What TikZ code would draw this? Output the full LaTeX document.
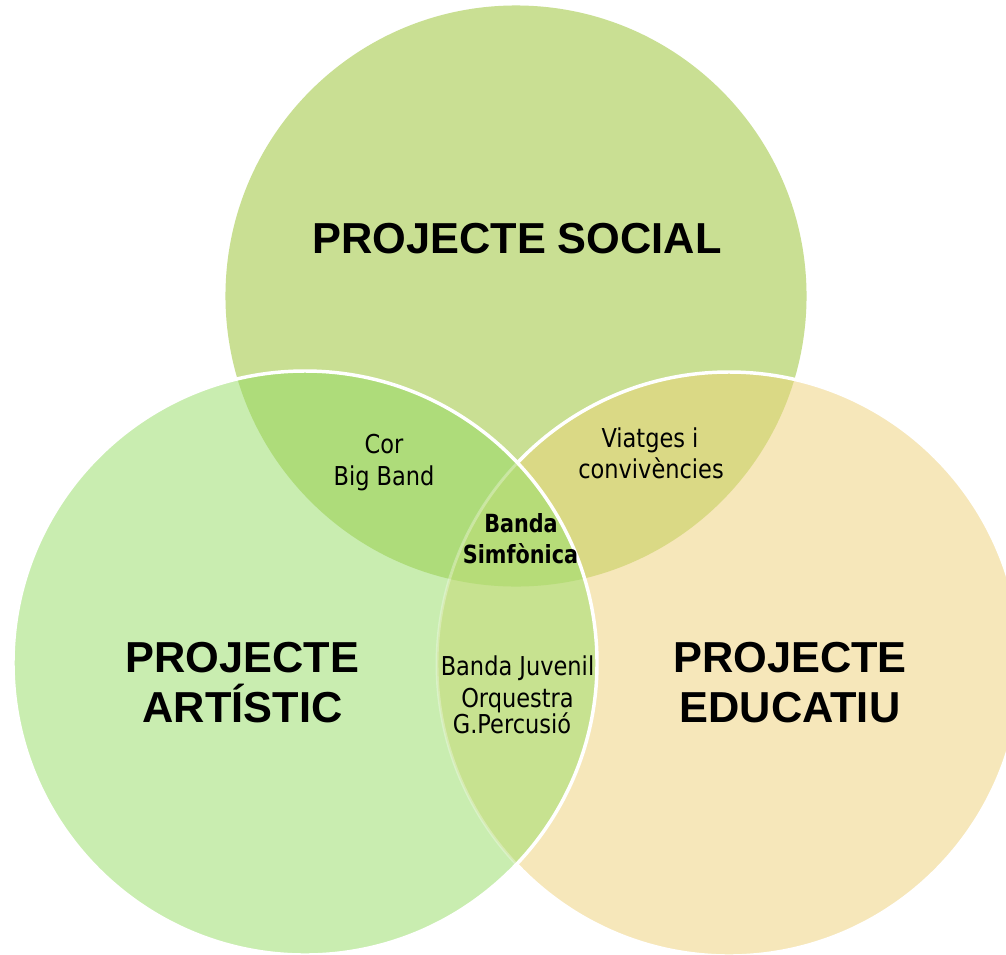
\documentclass[tikz,border=0pt]{standalone}
\usepackage{fontspec}
\setmainfont{Liberation Sans}
\newfontfamily\smallfont[FakeStretch=0.865]{DejaVu Sans}
\newfontfamily\smallboldfont[FakeStretch=0.83]{DejaVu Sans}
\definecolor{cTop}{HTML}{C9DF93}
\definecolor{cLeft}{HTML}{C9EDB0}
\definecolor{cRight}{HTML}{F6E7BA}
\definecolor{cTL}{HTML}{AEDC7A}
\definecolor{cTR}{HTML}{DAD985}
\definecolor{cLR}{HTML}{C7E290}
\definecolor{cAll}{HTML}{B6DC78}
\tikzset{
  bigtxt/.style={font=\bfseries\fontsize{32.5pt}{37.5pt}\selectfont, anchor=base, inner sep=0pt, text=black},
  smalltxt/.style={font=\smallfont\fontsize{19.5pt}{24pt}\selectfont, anchor=base, inner sep=0pt, text=black},
  smallbold/.style={font=\smallboldfont\bfseries\fontsize{18.75pt}{24pt}\selectfont, anchor=base, inner sep=0pt, text=black},
  outline/.style={draw=white, line width=2.6pt}
}
\def\rS{217.9pt}
\def\rA{219pt}
\def\rE{219pt}
\begin{document}
\begin{tikzpicture}[x=0.75pt,y=-0.75pt]
\useasboundingbox (0,0) rectangle (1006,954);
\clip (0,0) rectangle (1006,954);
\fill[white] (0,0) rectangle (1006,954);
\coordinate (S) at (516,296);
\coordinate (A) at (305,663);
\coordinate (E) at (729,664);
% top and right circles
\fill[cTop] (S) circle[radius=\rS];
\fill[cRight] (E) circle[radius=\rE];
\begin{scope}
  \clip (S) circle[radius=\rS];
  \fill[cTR] (E) circle[radius=\rE];
\end{scope}
\draw[outline] (E) circle[radius=\rE];
% left circle on top
\fill[cLeft] (A) circle[radius=\rA];
\begin{scope}
  \clip (A) circle[radius=\rA];
  \fill[cTL] (S) circle[radius=\rS];
  \fill[cLR] (E) circle[radius=\rE];
  \clip (S) circle[radius=\rS];
  \fill[cAll] (E) circle[radius=\rE];
\end{scope}
\begin{scope}
  \clip (A) circle[radius=\rA];
  \draw[draw=white, line width=2.2pt, opacity=0.3] (E) circle[radius=\rE];
\end{scope}
\draw[outline] (A) circle[radius=\rA];
% labels
\node[bigtxt] (social) at (517,253.5) {PROJECTE SOCIAL};
\node[bigtxt] (art1) at (242.5,672.5) {PROJECTE};
\node[bigtxt] (art2) at (242.5,722.5) {ARTÍSTIC};
\node[bigtxt] (edu1) at (790,672.5) {PROJECTE};
\node[bigtxt] (edu2) at (790,722.5) {EDUCATIU};
\node[smalltxt] (cor) at (384,453) {Cor};
\node[smalltxt] (bigband) at (384,485) {Big Band};
\node[smalltxt] (viatges) at (650,447) {Viatges i};
\node[smalltxt] (conv) at (651,478) {convivències};
\node[smallbold] (banda) at (521,532) {Banda};
\node[smallbold] (simf) at (520.5,563) {Simfònica};
\node[smalltxt] (juvenil) at (517.5,675) {Banda Juvenil};
\node[smalltxt] (orq) at (517.5,707) {Orquestra};
\node[smalltxt] (perc) at (512,733) {G.Percusió};
\end{tikzpicture}
\end{document}
